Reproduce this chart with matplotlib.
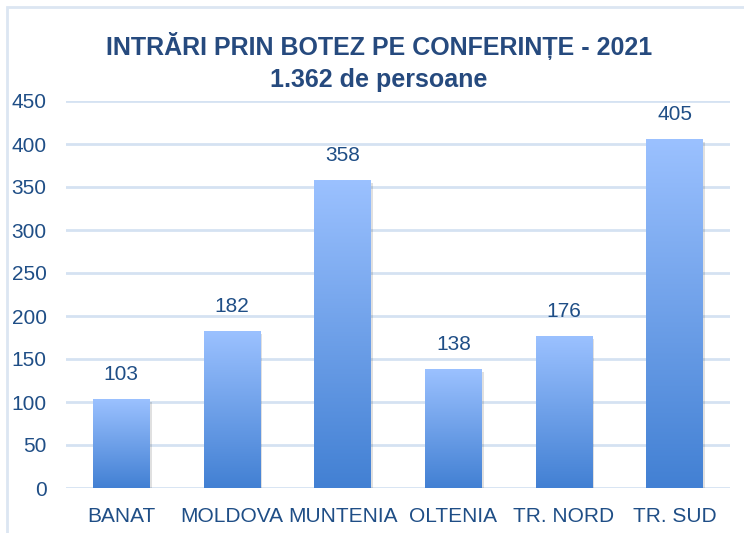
import numpy as np
import matplotlib
matplotlib.use("Agg")
import matplotlib.pyplot as plt
from matplotlib.colors import LinearSegmentedColormap
from matplotlib.patches import Rectangle

categories = ["BANAT", "MOLDOVA", "MUNTENIA", "OLTENIA", "TR. NORD", "TR. SUD"]
values = [103, 182, 358, 138, 176, 405]
yticks = [0, 50, 100, 150, 200, 250, 300, 350, 400, 450]
title = "INTRĂRI PRIN BOTEZ PE CONFERINȚE - 2021\n1.362 de persoane"

plt.rcParams["font.family"] = ["Liberation Sans Narrow", "Liberation Sans", "DejaVu Sans"]

text_col = "#1F4E86"
title_col = "#264A7E"
grid_col = "#D5E2F2"
grad = LinearSegmentedColormap.from_list("g", ["#4280D3", "#9BC1FF"])

fig = plt.figure(figsize=(7.44, 5.33), dpi=100)
ax = fig.add_axes([66 / 744, 45 / 533, 664 / 744, 387 / 533])

# figure frame
fig.patches.append(Rectangle((7 / 744, -0.1), 1.1, (533 - 7) / 533 + 0.1,
                             transform=fig.transFigure, fill=False,
                             edgecolor="#DCE6F2", linewidth=2))

width = 0.51
x = np.arange(len(categories))
img = np.linspace(0, 1, 256).reshape(-1, 1)
for xi, v in zip(x, values):
    # soft shadow
    ax.add_patch(Rectangle((xi - width / 2 + 0.02, -3), width, v, color="#000000",
                           alpha=0.12, linewidth=0, zorder=1))
    ax.imshow(img, cmap=grad, origin="lower", aspect="auto",
              extent=[xi - width / 2, xi + width / 2, 0, v], zorder=2)
    ax.text(xi, v + 18, str(v), ha="center", va="bottom", fontsize=15, color=text_col)

ax.set_xlim(-0.5, len(categories) - 0.5)
ax.set_ylim(0, 450)
ax.set_yticks(yticks)
ax.set_xticks(x)
ax.set_xticklabels(categories)
ax.tick_params(axis="x", length=0, labelsize=15, colors=text_col, pad=14)
ax.tick_params(axis="y", length=0, labelsize=15, colors=text_col, pad=14)
ax.grid(axis="y", color=grid_col, linewidth=2)
ax.set_axisbelow(True)
for s in ax.spines.values():
    s.set_visible(False)

fig.text(379 / 744, 1 - 62 / 533, title, ha="center", va="center", fontsize=18,
         fontweight="bold", color=title_col, linespacing=1.45)

fig.savefig("out.png", dpi=100)
